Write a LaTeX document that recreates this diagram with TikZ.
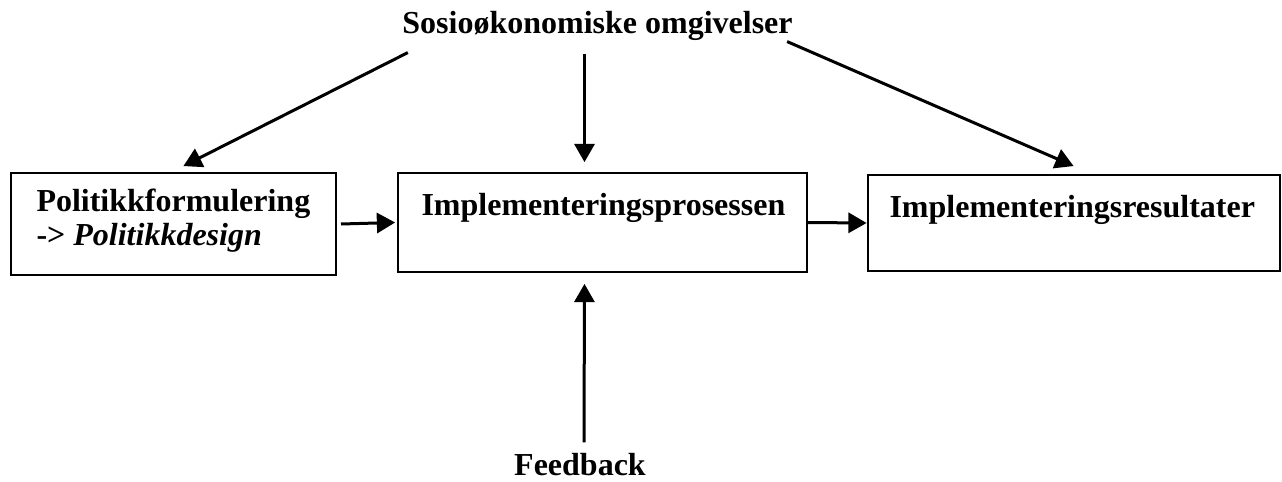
\documentclass[tikz,border=0pt]{standalone}
\usepackage{fontspec}
\setmainfont{Liberation Serif}
\usetikzlibrary{arrows}

\begin{document}
\begin{tikzpicture}[->,>=triangle 60,x=0.5pt,y=-0.5pt,line width=1.5pt,
        blokk/.style={draw,line width=1pt,inner sep=0pt},
        tekst/.style={inner sep=0pt,align=left,font=\fontsize{16}{17}\selectfont\bfseries}]

    \useasboundingbox (0,0) rectangle (1282,482);

    \node[blokk,minimum width=162.5pt,minimum height=51pt] (polform) at (173.5,224) {};
    \node[blokk,minimum width=204.5pt,minimum height=49.5pt] (implprosess) at (602.5,222.5) {};
    \node[blokk,minimum width=206pt,minimum height=48pt] (implres) at (1073.5,223) {};

    \node[tekst,anchor=north west] (polformtxt) at (35,187) {Politikkformulering\\-> \textit{Politikkdesign}};
    \node[tekst,anchor=base west] (implprosesstxt) at (420,215) {Implementeringsprosessen};
    \node[tekst,anchor=base west] (implrestxt) at (888,217) {Implementeringsresultater};
    \node[tekst,anchor=base] (sosio) at (597.5,33) {Sosio\o konomiske omgivelser};
    \node[tekst,anchor=base] (feedback) at (580,475) {Feedback};

    \path ([xshift=3.5pt,yshift=-5.5pt]sosio.south west) edge ([xshift=5pt,yshift=3pt]polform.north);
    \path ([xshift=-6.5pt,yshift=-6pt]sosio.south) edge ([xshift=-9pt,yshift=5pt]implprosess.north);
    \path ([xshift=-3.5pt]sosio.south east) edge ([yshift=4pt]implres.north);
    \path ([xshift=2pt]polform.east) edge ([xshift=-1pt]implprosess.west);
    \path (implprosess.east) edge (implres.west);
    \path ([xshift=2pt,yshift=4.5pt]feedback.north) edge ([xshift=-9pt,yshift=-5.5pt]implprosess.south);

\end{tikzpicture}
\end{document}
